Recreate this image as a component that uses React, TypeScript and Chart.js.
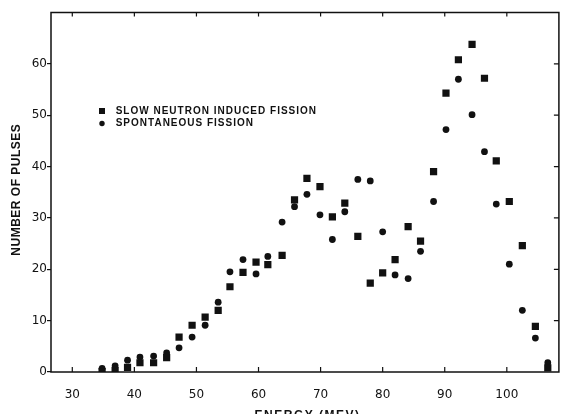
import React, { useEffect, useRef } from 'react';
import { Chart, registerables } from 'chart.js';

Chart.register(...registerables);

// Energy of each measured pulse-height bin (MeV)
const ENERGY = [
  34.8, 36.9, 38.9, 40.9, 43.1, 45.2, 47.2, 49.3, 51.4, 53.5, 55.4, 57.5,
  59.6, 61.5, 63.8, 65.8, 67.8, 69.9, 71.9, 73.9, 76.0, 78.0, 80.0, 82.0,
  84.1, 86.1, 88.2, 90.2, 92.2, 94.4, 96.4, 98.3, 100.4, 102.5, 104.6, 106.6,
];

// Slow neutron induced fission (squares)
const SLOW_NEUTRON = [
  0.1, 0.25, 0.9, 1.8, 1.8, 2.8, 6.8, 9.1, 10.7, 12.0, 16.6, 19.4,
  21.4, 20.9, 22.7, 33.5, 37.7, 36.1, 30.2, 32.9, 26.4, 17.3, 19.3, 21.9,
  28.3, 25.5, 39.0, 54.3, 60.8, 63.8, 57.2, 41.1, 33.2, 24.6, 8.9, 0.8,
];

// Spontaneous fission (circles)
const SPONTANEOUS = [
  0.7, 1.2, 2.3, 2.9, 3.1, 3.7, 4.7, 6.8, 9.1, 13.6, 19.5, 21.9,
  19.1, 22.5, 29.2, 32.2, 34.6, 30.6, 25.8, 31.2, 37.5, 37.2, 27.3, 18.9,
  18.2, 23.5, 33.2, 47.2, 57.0, 50.1, 42.9, 32.7, 21.0, 12.0, 6.6, 1.8,
];

const X_TICKS = [30, 40, 50, 60, 70, 80, 90, 100];
const Y_TICKS = [0, 10, 20, 30, 40, 50, 60];
const X_TITLE = 'ENERGY (MEV)';
const Y_TITLE = 'NUMBER OF PULSES';
const SERIES_LABELS = ['SLOW NEUTRON INDUCED FISSION', 'SPONTANEOUS FISSION'];

const INK = '#111111';

export default function App() {
  const ref = useRef<HTMLCanvasElement>(null);

  useEffect(() => {
    const canvas = ref.current;
    if (!canvas) return;

    const framePlugin = {
      id: 'framePlugin',
      afterDraw(chart: any) {
        const { ctx, chartArea, scales } = chart;
        const { left, right, top, bottom } = chartArea;
        const x = scales.x;
        const y = scales.y;
        ctx.save();
        ctx.strokeStyle = INK;
        ctx.fillStyle = INK;
        // frame
        ctx.lineWidth = 1.5;
        ctx.strokeRect(left, top, right - left, bottom - top);
        // inward ticks
        ctx.lineWidth = 1.2;
        ctx.beginPath();
        for (const v of X_TICKS) {
          const px = x.getPixelForValue(v);
          ctx.moveTo(px, bottom);
          ctx.lineTo(px, bottom - 5);
          ctx.moveTo(px, top);
          ctx.lineTo(px, top + 4);
        }
        for (const v of Y_TICKS) {
          if (v === 0) continue;
          const py = y.getPixelForValue(v);
          ctx.moveTo(right, py);
          ctx.lineTo(right - 5, py);
        }
        ctx.stroke();

        // y title
        ctx.save();
        ctx.translate(16.7, y.getPixelForValue(35.5));
        ctx.rotate(-Math.PI / 2);
        ctx.font = 'bold 12px "Liberation Sans", Arial, sans-serif';
        (ctx as any).letterSpacing = '0.5px';
        ctx.textAlign = 'center';
        ctx.textBaseline = 'middle';
        ctx.fillText(Y_TITLE, 0, 0);
        ctx.restore();

        // x title
        ctx.save();
        ctx.font = 'bold 12px "Liberation Sans", Arial, sans-serif';
        (ctx as any).letterSpacing = '1.5px';
        ctx.textAlign = 'center';
        ctx.textBaseline = 'alphabetic';
        ctx.fillText(X_TITLE, x.getPixelForValue(67.9), 418.5);
        ctx.restore();

        // legend
        ctx.save();
        ctx.font = 'bold 10px "Liberation Sans", Arial, sans-serif';
        (ctx as any).letterSpacing = '1px';
        ctx.textAlign = 'left';
        ctx.textBaseline = 'middle';
        const lx = 102;
        const ly1 = 111;
        const ly2 = 123.5;
        ctx.fillRect(lx - 3, ly1 - 3, 6, 6);
        ctx.beginPath();
        ctx.arc(lx, ly2, 2.7, 0, Math.PI * 2);
        ctx.fill();
        ctx.fillText(SERIES_LABELS[0], 115.7, ly1);
        ctx.fillText(SERIES_LABELS[1], 115.7, ly2);
        ctx.restore();

        ctx.restore();
      },
    };

    const chart = new Chart(canvas, {
      type: 'scatter',
      data: {
        datasets: [
          {
            label: SERIES_LABELS[0],
            data: ENERGY.map((e, i) => ({ x: e, y: SLOW_NEUTRON[i] })),
            pointStyle: 'rect',
            pointRadius: 5.1,
            backgroundColor: INK,
            borderColor: INK,
            borderWidth: 0,
          },
          {
            label: SERIES_LABELS[1],
            data: ENERGY.map((e, i) => ({ x: e, y: SPONTANEOUS[i] })),
            pointStyle: 'circle',
            pointRadius: 3.4,
            backgroundColor: INK,
            borderColor: INK,
            borderWidth: 0,
          },
        ],
      },
      options: {
        animation: false,
        responsive: false,
        devicePixelRatio: 1,
        layout: { padding: { top: 12.5, right: 0.7, left: 0, bottom: 0 } },
        plugins: {
          legend: { display: false },
          tooltip: { enabled: false },
        },
        scales: {
          x: {
            type: 'linear',
            min: 26.57,
            max: 108.39,
            afterFit: (s: any) => {
              s.height = 42;
            },
            ticks: {
              stepSize: 10,
              includeBounds: false,
              autoSkip: false,
              maxRotation: 0,
              padding: 8,
              color: INK,
              font: { family: '"DejaVu Sans", sans-serif', size: 12 },
              callback: (v: any) => (X_TICKS.includes(Number(v)) ? String(v) : ''),
            },
            grid: { display: false },
            border: { display: false },
          },
          y: {
            type: 'linear',
            min: 0,
            max: 70,
            afterFit: (s: any) => {
              s.width = 51;
            },
            ticks: {
              stepSize: 10,
              includeBounds: false,
              autoSkip: false,
              padding: 0,
              color: INK,
              font: { family: '"DejaVu Sans", sans-serif', size: 12 },
              callback: (v: any) => (Y_TICKS.includes(Number(v)) ? String(v) : ''),
            },
            grid: {
              display: true,
              drawOnChartArea: false,
              drawTicks: true,
              tickLength: 4,
              color: (c: any) => (c.tick && Y_TICKS.includes(c.tick.value) ? INK : 'rgba(0,0,0,0)'),
              lineWidth: 1.2,
            },
            border: { display: false },
          },
        },
      },
      plugins: [framePlugin],
    });

    return () => chart.destroy();
  }, []);

  return (
    <div style={{ position: 'fixed', left: 0, top: 0, width: 564, height: 414, background: '#fff' }}>
      <canvas ref={ref} width={564} height={414} style={{ display: 'block' }} />
    </div>
  );
}
